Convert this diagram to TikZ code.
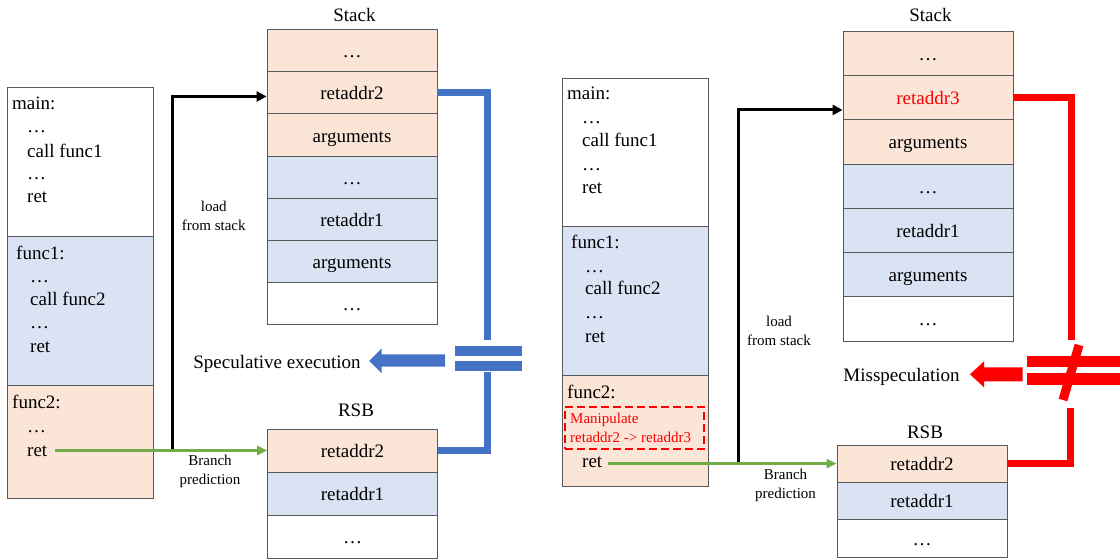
\documentclass[tikz,border=0pt]{standalone}
\usepackage{fontspec}
\setmainfont{Liberation Serif}
\usetikzlibrary{arrows.meta}
\definecolor{peach}{HTML}{FBE5D6}
\definecolor{lblue}{HTML}{DAE3F3}
\definecolor{edgegray}{HTML}{595959}
\definecolor{bblue}{HTML}{4472C4}
\definecolor{ggreen}{HTML}{70AD47}
\definecolor{rred}{HTML}{FF0000}
\newcommand{\myBig}{\fontsize{19}{23}\selectfont}
\newcommand{\mySmall}{\fontsize{15}{19}\selectfont}
\begin{document}
\begin{tikzpicture}[x=1pt,y=-1pt,
  cell/.style={draw=edgegray, line width=0.8pt, minimum width=170pt, inner sep=0pt, font=\myBig, text height=17pt, text depth=3pt},
  codebox/.style={draw=edgegray, line width=0.8pt, minimum width=146pt, inner sep=0pt},
  code/.style={anchor=base west, inner sep=0pt, font=\myBig},
  title/.style={anchor=base, inner sep=0pt, font=\myBig},
  small/.style={align=center, inner sep=0pt, font=\mySmall},
  loadarr/.style={draw=black, line width=3pt, -{Triangle[length=10pt,width=10pt]}},
  predarr/.style={draw=ggreen, line width=3pt, -{Triangle[length=10pt,width=9pt]}},
  bluecon/.style={draw=bblue, line width=6.3pt},
  redcon/.style={draw=rred, line width=7pt}
]
\useasboundingbox (0,0) rectangle (1120,558);

% ================= LEFT =================
% code box
\node[codebox, fill=white, minimum height=149pt] (lmain) at (80,161.5) {};
\node[codebox, fill=lblue, minimum height=149pt] (lf1) at (80,310.5) {};
\node[codebox, fill=peach, minimum height=113pt] (lf2) at (80,441.5) {};
\node[code] (lt1) at (12,109) {main:};
\node[code] (lt2) at (27,132) {…};
\node[code] (lt3) at (27,157) {call func1};
\node[code] (lt4) at (27,179) {…};
\node[code] (lt5) at (27,202) {ret};
\node[code] (lt6) at (16,259) {func1:};
\node[code] (lt7) at (30,282) {…};
\node[code] (lt8) at (30,305) {call func2};
\node[code] (lt9) at (30,328) {…};
\node[code] (lt10) at (30,352) {ret};
\node[code] (lt11) at (12,408) {func2:};
\node[code] (lt12) at (27,432) {…};
\node[code] (lt13) at (27,456) {ret};

% stack
\node[title] (lstack) at (354.5,21.7) {Stack};
\node[cell, fill=peach, minimum height=42pt] (ls1) at (352,50) {…};
\node[cell, fill=peach, minimum height=42.5pt] (ls2) at (352,92.5) {retaddr2};
\node[cell, fill=peach, minimum height=42.5pt] (ls3) at (352,135) {arguments};
\node[cell, fill=lblue, minimum height=42pt] (ls4) at (352,177) {…};
\node[cell, fill=lblue, minimum height=42pt] (ls5) at (352,219) {retaddr1};
\node[cell, fill=lblue, minimum height=42pt] (ls6) at (352,261) {arguments};
\node[cell, fill=white, minimum height=42pt] (ls7) at (352,303) {…};

% RSB
\node[title] (lrsb) at (356,416.7) {RSB};
\node[cell, fill=peach, minimum height=43pt] (lr1) at (352.5,450.5) {retaddr2};
\node[cell, fill=lblue, minimum height=43pt] (lr2) at (352.5,493.5) {retaddr1};
\node[cell, fill=white, minimum height=43pt] (lr3) at (352.5,536.5) {…};

% arrows
\coordinate (lgs) at (55,450.5);
\coordinate (ljoin) at (172,450.5);
\draw[loadarr] (ljoin) |- ([yshift=-4pt]ls2.west);
\draw[predarr] (lgs) -- (lgs -| lr1.west);
\node[small] (lload) at (213.8,216) {load\\from stack};
\node[small] (lbranch) at (210,471.5) {Branch\\prediction};

% blue connector
\coordinate (lbt) at (487.5,340);
\coordinate (lbb) at (487.5,372);
\draw[bluecon] (ls2.east) -| (lbt);
\draw[bluecon] (lbb) |- (lr1.east);
\fill[bblue] (455,346) rectangle (522,356);
\fill[bblue] (455,361) rectangle (522,371);
\fill[bblue] (445,354.3) -- (381.7,354.3) -- (381.7,348.3) -- (369.3,360.8) -- (381.7,373.3) -- (381.7,366.7) -- (445,366.7) -- cycle;
\node[title] (lspec) at (277,368) {Speculative execution};

% ================= RIGHT =================
\node[codebox, fill=white, minimum height=148pt] (rmain) at (635,152) {};
\node[codebox, fill=lblue, minimum height=149pt] (rf1) at (635,300.5) {};
\node[codebox, fill=peach, minimum height=111pt] (rf2) at (635,430.5) {};
\node[code] (rt1) at (567,99) {main:};
\node[code] (rt2) at (582,123) {…};
\node[code] (rt3) at (582,146) {call func1};
\node[code] (rt4) at (582,170) {…};
\node[code] (rt5) at (582,193) {ret};
\node[code] (rt6) at (571,248) {func1:};
\node[code] (rt7) at (585,272) {…};
\node[code] (rt8) at (585,294) {call func2};
\node[code] (rt9) at (585,318) {…};
\node[code] (rt10) at (585,342) {ret};
\node[code] (rt11) at (567,398) {func2:};
\node[draw=rred, line width=1.8pt, dash pattern=on 8pt off 4pt, minimum width=139pt, minimum height=42pt, inner sep=0pt] (rmanip) at (634.5,428) {};
\node[anchor=base west, inner sep=0pt, font=\mySmall, text=rred] (rm1) at (570,423) {Manipulate};
\node[anchor=base west, inner sep=0pt, font=\mySmall, text=rred] (rm2) at (570,442) {retaddr2 -> retaddr3};
\node[code] (rt12) at (582,467) {ret};

% stack
\node[title] (rstack) at (930.5,21.7) {Stack};
\node[cell, fill=peach, minimum height=44.3pt] (rs1) at (928,53.15) {…};
\node[cell, fill=peach, minimum height=44.3pt, text=rred] (rs2) at (928,97.45) {retaddr3};
\node[cell, fill=peach, minimum height=44.3pt] (rs3) at (928,141.75) {arguments};
\node[cell, fill=lblue, minimum height=44.3pt] (rs4) at (928,186.05) {…};
\node[cell, fill=lblue, minimum height=44.3pt] (rs5) at (928,230.35) {retaddr1};
\node[cell, fill=lblue, minimum height=44.3pt] (rs6) at (928,274.65) {arguments};
\node[cell, fill=white, minimum height=44.3pt] (rs7) at (928,318.95) {…};

% RSB
\node[title] (rrsb) at (925,438) {RSB};
\node[cell, fill=peach, minimum height=37.3pt] (rr1) at (922,463.65) {retaddr2};
\node[cell, fill=lblue, minimum height=37.3pt] (rr2) at (922,500.95) {retaddr1};
\node[cell, fill=white, minimum height=37.3pt] (rr3) at (922,538.25) {…};

% arrows
\coordinate (rgs) at (608,463.65);
\coordinate (rjoin) at (738,463.65);
\draw[loadarr] (rjoin) |- ([yshift=-12.5pt]rs2.west);
\draw[predarr] (rgs) -- (rgs -| rr1.west);
\node[small] (rload) at (779,330.5) {load\\from stack};
\node[small] (rbranch) at (785.5,485) {Branch\\prediction};

% red connector
\coordinate (rbt) at (1071,340);
\coordinate (rbb) at (1070,408);
\draw[redcon] (rs2.east) -| (rbt);
\draw[redcon] (rbb) |- (rr1.east);
\fill[rred] (1027,356) rectangle (1120,367.3);
\fill[rred] (1027,373.3) rectangle (1120,385);
\draw[rred, line width=9pt] (1079,345) -- (1063,400);
\fill[rred] (1022.7,367.3) -- (984,367.3) -- (984,361.3) -- (970,374.3) -- (984,387.3) -- (984,381.3) -- (1022.7,381.3) -- cycle;
\node[title] (rmiss) at (901.5,381.7) {Misspeculation};
\end{tikzpicture}
\end{document}
